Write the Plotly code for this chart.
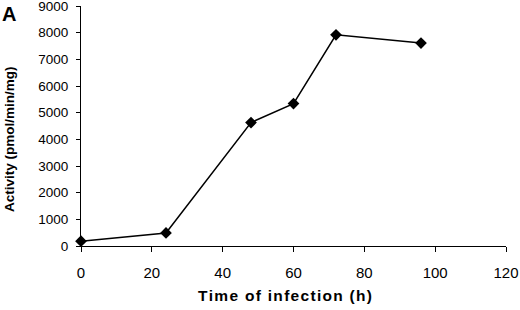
import plotly.graph_objects as go

time_h = [0, 24, 48, 60, 72, 96]
activity = [180, 490, 4630, 5340, 7920, 7610]
x_ticks = [0, 20, 40, 60, 80, 100, 120]
y_ticks = [0, 1000, 2000, 3000, 4000, 5000, 6000, 7000, 8000, 9000]

L, R, T, B = 81, 14, 6, 64
W, H = 520, 310
pw, ph = W - L - R, H - T - B

def px(x):
    return (x - L) / pw

def py(y):
    return (H - B - y) / ph

fig = go.Figure()
fig.add_trace(go.Scatter(
    x=time_h, y=activity, mode="lines+markers",
    line=dict(color="black", width=1.5),
    marker=dict(symbol="diamond", size=9, color="black"),
    showlegend=False, cliponaxis=False,
))

font = "Liberation Sans, Arial, sans-serif"
hs = "\u200a"
xtitle = "Time of infection (h)"
xtitle_spaced = hs.join(list(xtitle))

fig.update_layout(
    width=W, height=H,
    margin=dict(l=L, r=R, t=T, b=B, autoexpand=False),
    plot_bgcolor="white", paper_bgcolor="white",
    font=dict(family=font, color="black", size=13),
    xaxis=dict(range=[0, 120], tickvals=x_ticks, showgrid=False, zeroline=False,
               showline=True, linecolor="black", linewidth=1,
               ticks="outside", ticklen=5, tickcolor="black",
               tickfont=dict(size=15), ticklabelstandoff=8,
               automargin=False, ticklabeloverflow="allow"),
    yaxis=dict(range=[0, 9000], tickvals=y_ticks, showgrid=False, zeroline=False,
               showline=True, linecolor="black", linewidth=1,
               ticks="outside", ticklen=4, tickcolor="black",
               tickfont=dict(size=13.5), ticklabelstandoff=5,
               automargin=False, ticklabeloverflow="allow"),
    annotations=[
        dict(text="<b>A</b>", xref="paper", yref="paper", x=px(0), y=py(1),
             xanchor="left", yanchor="top", showarrow=False, font=dict(size=20)),
        dict(text="<b>Activity (pmol/min/mg)</b>", xref="paper", yref="paper",
             x=px(9), y=py(139), textangle=-90, showarrow=False,
             xanchor="center", yanchor="middle", font=dict(size=13.5)),
        dict(text="<b>" + xtitle_spaced + "</b>", xref="paper", yref="paper",
             x=px(285), y=py(295), showarrow=False,
             xanchor="center", yanchor="middle", font=dict(size=15.5)),
    ],
)
fig.write_html("out.html", config={"displayModeBar": False},
               post_script="document.body.style.margin='0';")
